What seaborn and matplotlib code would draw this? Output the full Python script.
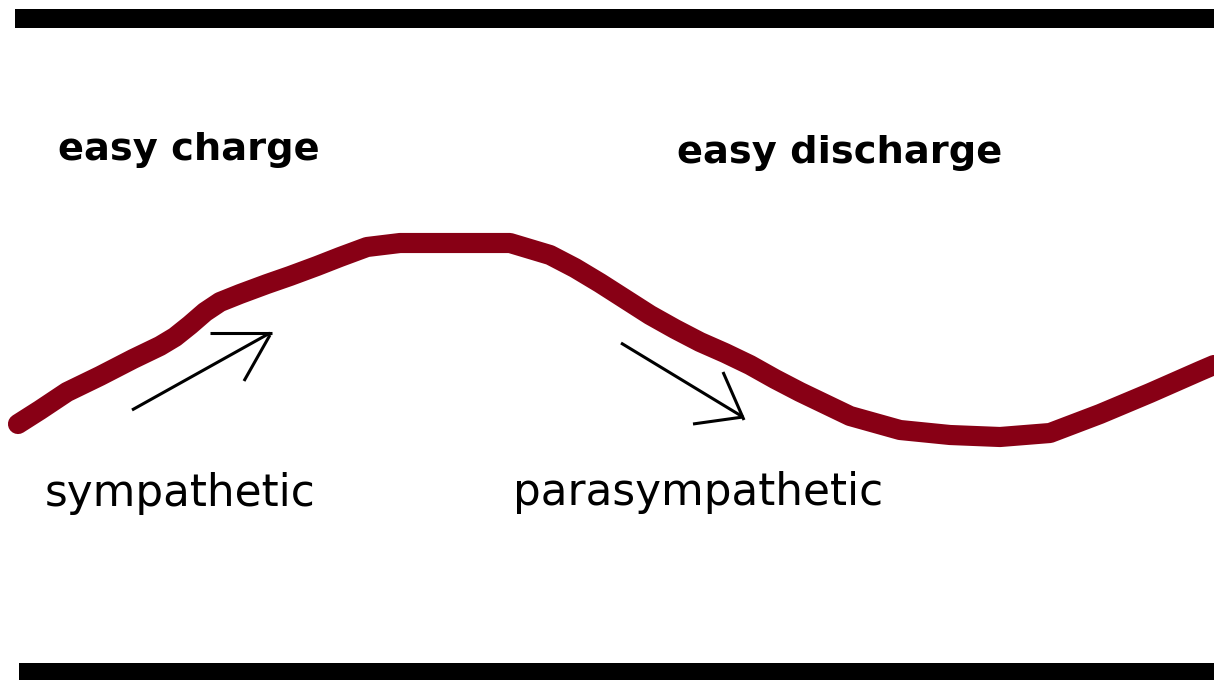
import numpy as np
import pandas as pd
import matplotlib
matplotlib.use('Agg')
import matplotlib.pyplot as plt
import seaborn as sns

# wave drawn in paint, pixel coords (x right, y down)
wave_x = [18, 40, 67, 100, 133, 160, 175, 190, 205, 220, 240, 267, 290, 317, 340, 367, 400, 450, 510,
          550, 575, 600, 625, 650, 675, 700, 725, 750, 775, 800, 850, 900, 950, 1000,
          1050, 1100, 1150, 1200, 1214]
wave_y = [424, 410, 392, 376, 359, 346, 337, 325, 312, 302, 294, 284, 276, 266, 257, 247, 243, 243, 243,
          255, 268, 283, 299, 315, 329, 342, 353, 365, 379, 392, 416, 430, 435, 437,
          433, 414, 393, 371, 365]

# thick black borders: x start, x end, y top, y bottom
border_top = [15, 1214, 9, 28]
border_bottom = [19, 1214, 663, 681]

# hand drawn arrows, each is a list of strokes (x0, y0, x1, y1)
arrow_up = [(132, 410, 270, 333), (210, 333, 272, 333), (270, 335, 244, 381)]
arrow_down = [(621, 343, 743, 417), (723, 372, 744, 420), (693, 424, 743, 417)]

labels = ['easy charge', 'easy discharge', 'sympathetic', 'parasympathetic']
label_x = [58, 677, 45, 513]
label_y = [160, 163, 506, 505]
label_bold = [True, True, False, False]

wave_color = '#880015'

sns.set_style('white')
plt.rcParams['font.family'] = ['DejaVu Sans']

fig = plt.figure(figsize=(12.14, 6.8), dpi=100)
ax = fig.add_axes([0, 0, 1, 1])

for x0, x1, y0, y1 in [border_top, border_bottom]:
    ax.fill_between([x0, x1], y0, y1, color='black', lw=0)

df = pd.DataFrame({'x': wave_x, 'y': wave_y})
sns.lineplot(data=df, x='x', y='y', sort=False, color=wave_color, lw=14.5,
             solid_capstyle='round', solid_joinstyle='round', ax=ax)

for strokes in [arrow_up, arrow_down]:
    for x0, y0, x1, y1 in strokes:
        ax.plot([x0, x1], [y0, y1], color='black', lw=2.2, solid_capstyle='butt')

for txt, x, y, b in zip(labels, label_x, label_y, label_bold):
    ax.text(x, y, txt, ha='left', va='baseline', color='black',
            fontsize=27.6 if b else 31.5, fontweight='bold' if b else 'normal')

ax.set_xlim(0, 1214)
ax.set_ylim(680, 0)
ax.axis('off')

fig.savefig('out.png', dpi=100, facecolor='white')
